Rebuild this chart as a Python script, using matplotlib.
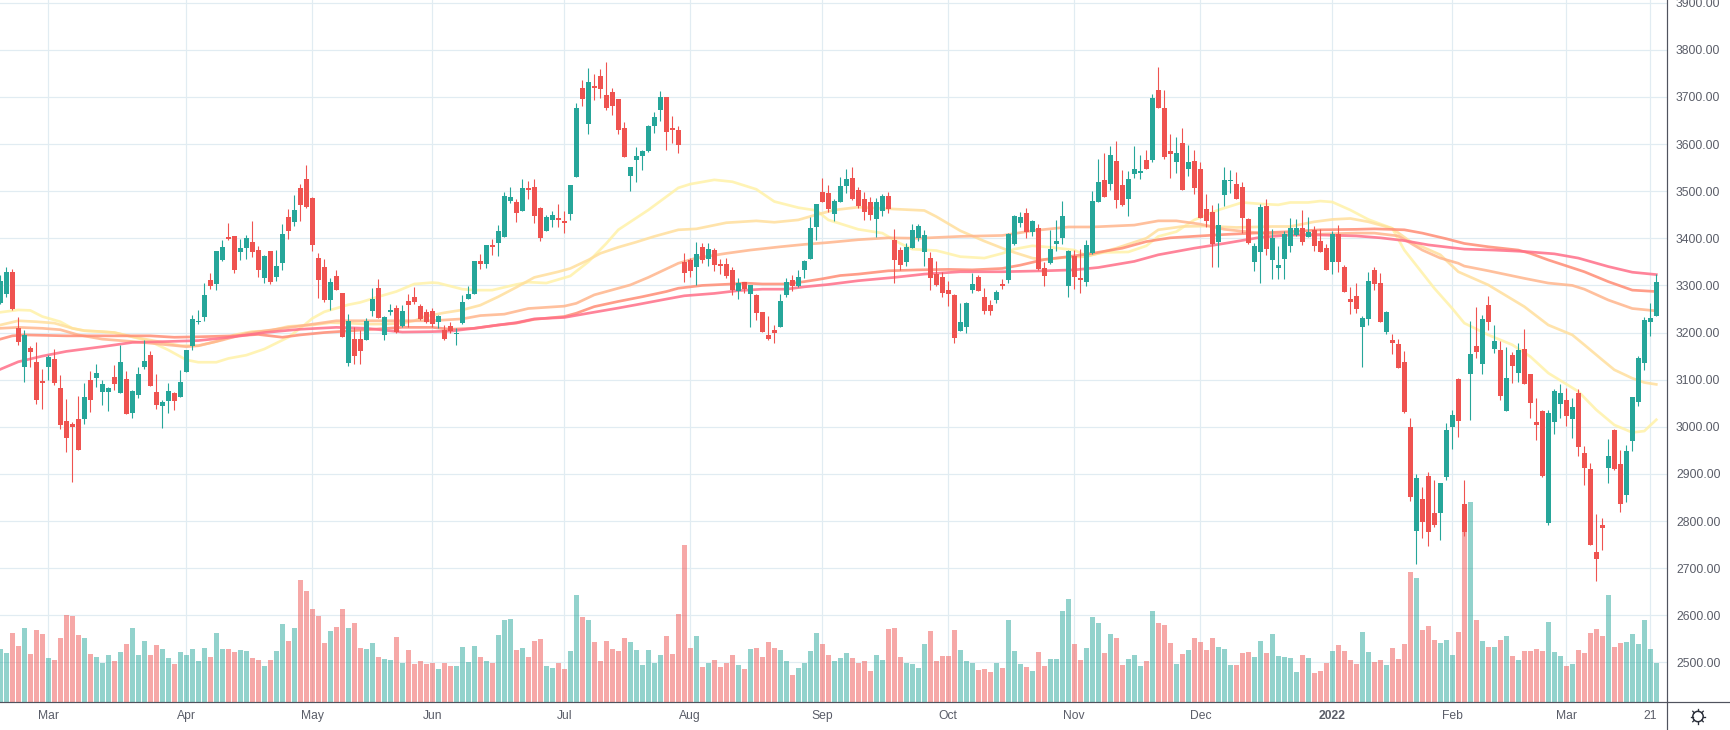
import matplotlib
matplotlib.use("Agg")
import numpy as np
import matplotlib.pyplot as plt
from matplotlib.patches import Circle

plt.rcParams['font.family'] = ['Liberation Sans', 'DejaVu Sans']

open_ = [3263,3282,3329,3210,3127,3167,3138,3097,3127,3144,
 3082,3012,3006,3017,3017,3100,3104,3074,3074,3106,
 3072,3102,3029,3068,3127,3152,3074,3044,3055,3072,
 3063,3116,3172,3222,3233,3312,3303,3354,3403,3405,
 3371,3379,3392,3375,3316,3373,3318,3348,3445,3435,
 3507,3526,3486,3358,3339,3269,3320,3284,3135,3186,
 3186,3184,3246,3295,3195,3244,3252,3214,3267,3275,
 3256,3244,3246,3223,3206,3214,3197,3220,3271,3282,
 3352,3346,3386,3390,3403,3479,3477,3458,3507,3509,
 3464,3416,3439,3443,3437,3452,3530,3719,3643,3723,
 3744,3704,3710,3696,3634,3532,3566,3575,3585,3638,
 3672,3700,3634,3630,3350,3354,3339,3382,3356,3375,
 3346,3346,3333,3288,3307,3282,3280,3244,3195,3206,
 3212,3280,3312,3299,3333,3356,3424,3498,3496,3452,
 3477,3511,3528,3503,3483,3477,3441,3458,3490,3397,
 3375,3350,3380,3401,3371,3358,3324,3318,3290,3280,
 3203,3212,3290,3318,3276,3259,3269,3303,3312,3388,
 3433,3454,3413,3422,3337,3348,3388,3401,3299,3363,
 3316,3307,3369,3477,3524,3515,3564,3513,3483,3537,
 3539,3566,3566,3715,3677,3585,3562,3602,3547,3564,
 3547,3462,3456,3392,3492,3522,3515,3509,3441,3350,
 3371,3469,3354,3337,3356,3384,3407,3422,3403,3418,
 3394,3379,3350,3409,3339,3271,3278,3212,3229,3333,
 3305,3201,3184,3176,3138,3000,2779,2847,2896,2817,
 2817,2894,3000,3102,2836,3112,3172,3133,3259,3165,
 3163,3034,3152,3114,3165,3112,3010,3034,2796,3010,
 3048,3057,3017,3072,2945,2911,2735,2792,2913,2993,
 2921,2855,2970,3053,3135,3222,3235]
close = [3309,3329,3250,3180,3195,3159,3057,3093,3148,3093,
 3004,2976,3000,2951,3063,3057,3114,3091,3082,3091,
 3138,3027,3076,3112,3140,3087,3046,3053,3076,3055,
 3095,3163,3229,3225,3280,3299,3373,3382,3399,3333,
 3379,3401,3371,3333,3363,3307,3341,3409,3416,3460,
 3471,3466,3386,3312,3269,3307,3290,3191,3225,3150,
 3161,3225,3271,3231,3233,3248,3201,3246,3259,3265,
 3229,3222,3218,3235,3186,3203,3199,3265,3282,3352,
 3346,3386,3382,3416,3490,3488,3454,3507,3503,3447,
 3401,3445,3450,3439,3433,3513,3677,3696,3732,3719,
 3717,3677,3681,3630,3573,3551,3575,3585,3638,3657,
 3700,3626,3630,3598,3327,3331,3367,3354,3377,3343,
 3341,3320,3290,3305,3292,3301,3242,3201,3186,3199,
 3267,3307,3299,3318,3352,3422,3473,3477,3462,3479,
 3511,3526,3483,3469,3456,3450,3477,3490,3462,3354,
 3343,3382,3418,3426,3407,3316,3301,3284,3282,3189,
 3223,3263,3303,3288,3246,3246,3286,3299,3409,3447,
 3445,3413,3437,3335,3320,3377,3394,3447,3373,3318,
 3312,3386,3479,3520,3488,3577,3481,3471,3526,3547,
 3543,3547,3698,3677,3573,3579,3581,3503,3562,3507,
 3443,3437,3388,3428,3524,3524,3483,3443,3390,3384,
 3466,3377,3401,3343,3409,3422,3422,3392,3413,3384,
 3371,3333,3409,3350,3286,3265,3250,3231,3309,3303,
 3222,3244,3178,3125,3032,2851,2892,2798,2777,2792,
 2881,2993,3025,3012,2777,3155,3159,3229,3222,3182,
 3065,3104,3129,3163,3091,3051,3004,2896,3029,3076,
 3072,3023,3042,2957,2913,2749,2720,2785,2938,2911,
 2836,2949,3063,3146,3227,3231,3307]
high = [3322,3339,3335,3233,3206,3172,3180,3123,3152,3165,
 3110,3059,3010,3065,3093,3119,3133,3100,3085,3131,
 3174,3119,3078,3127,3184,3161,3112,3057,3093,3074,
 3121,3163,3237,3248,3305,3326,3374,3397,3432,3405,
 3399,3407,3437,3384,3365,3373,3375,3430,3462,3492,
 3515,3556,3488,3369,3356,3316,3333,3284,3239,3212,
 3206,3231,3295,3314,3235,3261,3259,3259,3282,3297,
 3261,3250,3252,3237,3216,3223,3210,3280,3299,3352,
 3367,3386,3399,3428,3498,3509,3483,3526,3522,3526,
 3466,3450,3458,3473,3458,3513,3687,3736,3761,3749,
 3759,3774,3719,3696,3647,3551,3594,3587,3640,3668,
 3713,3700,3660,3638,3369,3358,3392,3390,3390,3380,
 3356,3358,3339,3316,3307,3301,3282,3244,3235,3216,
 3282,3316,3322,3333,3354,3445,3473,3528,3513,3483,
 3530,3547,3551,3509,3498,3488,3486,3494,3498,3420,
 3382,3390,3430,3430,3418,3371,3352,3329,3309,3282,
 3263,3265,3326,3322,3295,3269,3290,3314,3411,3450,
 3456,3464,3439,3430,3350,3418,3439,3479,3375,3375,
 3377,3396,3500,3568,3581,3596,3607,3545,3543,3596,
 3577,3587,3706,3764,3715,3621,3615,3634,3598,3587,
 3562,3494,3471,3475,3551,3545,3541,3520,3443,3390,
 3473,3483,3420,3384,3416,3442,3441,3460,3445,3426,
 3420,3388,3416,3428,3343,3297,3305,3235,3329,3339,
 3326,3246,3197,3186,3161,3019,2900,2872,2904,2887,
 2881,3008,3036,3104,2887,3225,3254,3237,3278,3216,
 3182,3169,3159,3178,3208,3112,3061,3036,3036,3080,
 3091,3082,3061,3080,2959,2923,2815,2807,2974,2995,
 2951,2962,3063,3150,3233,3263,3324]
low = [3261,3275,3248,3174,3095,3127,3049,3038,3100,3089,
 2995,2947,2883,2951,3006,3032,3085,3046,3034,3078,
 3072,3027,3019,3061,3123,3087,3038,2998,3029,3036,
 3063,3116,3163,3218,3225,3292,3290,3352,3397,3326,
 3354,3356,3360,3318,3305,3303,3309,3333,3399,3426,
 3437,3464,3373,3273,3265,3248,3290,3191,3129,3133,
 3133,3184,3235,3231,3184,3237,3199,3212,3212,3261,
 3227,3220,3212,3210,3184,3199,3174,3218,3271,3282,
 3335,3337,3365,3363,3403,3475,3435,3458,3483,3433,
 3394,3416,3424,3424,3411,3439,3530,3681,3621,3693,
 3698,3672,3662,3621,3573,3500,3520,3545,3583,3623,
 3649,3587,3602,3581,3307,3318,3301,3348,3341,3331,
 3324,3316,3280,3271,3284,3212,3227,3201,3184,3178,
 3212,3276,3288,3297,3316,3356,3396,3477,3456,3437,
 3477,3496,3481,3464,3439,3439,3403,3447,3454,3305,
 3333,3341,3380,3394,3341,3290,3299,3276,3256,3178,
 3203,3199,3284,3288,3239,3237,3263,3293,3305,3386,
 3424,3401,3405,3333,3299,3346,3373,3388,3276,3293,
 3284,3299,3367,3477,3488,3503,3464,3469,3447,3528,
 3526,3547,3562,3677,3568,3528,3539,3503,3532,3494,
 3443,3424,3339,3339,3469,3496,3483,3411,3388,3331,
 3305,3365,3314,3314,3314,3371,3405,3386,3403,3373,
 3371,3333,3324,3329,3286,3239,3242,3127,3216,3290,
 3222,3197,3155,3125,3029,2843,2709,2764,2747,2788,
 2760,2887,2953,2978,2768,3015,3146,3112,3205,3157,
 3057,3034,3093,3095,3091,3019,2972,2894,2792,2985,
 3019,3002,2976,2938,2877,2749,2673,2739,2881,2908,
 2819,2841,2949,3044,3121,3193,3235]
volume = [160,148,208,169,223,145,217,205,133,127,
 193,262,259,202,193,145,136,118,142,124,
 151,175,223,142,184,142,172,160,133,115,
 151,142,160,124,163,136,208,160,160,151,
 157,154,133,127,109,127,154,235,184,223,
 367,334,280,259,178,214,226,280,223,238,
 163,160,178,136,130,127,196,118,157,115,
 124,115,118,100,118,109,109,166,121,169,
 136,124,118,202,247,250,157,163,136,184,
 190,109,103,118,100,154,322,256,247,181,
 124,184,160,154,193,181,157,112,157,118,
 142,199,145,265,472,163,199,106,118,127,
 106,118,142,112,100,160,163,136,181,163,
 157,124,82,103,118,154,208,175,142,124,
 133,148,133,118,124,94,142,127,220,223,
 136,118,115,103,175,214,124,139,139,217,
 157,124,118,97,100,91,118,103,247,154,
 115,106,94,151,109,130,130,274,310,175,
 127,163,256,238,148,205,193,112,130,142,
 109,124,274,238,232,178,115,145,157,193,
 181,157,193,166,160,112,112,148,151,136,
 184,148,205,139,136,133,91,142,133,88,
 94,118,154,172,154,127,115,211,151,121,
 127,112,163,130,175,391,373,217,229,187,
 178,187,142,211,576,600,247,184,166,166,
 187,199,139,127,154,154,160,154,241,151,
 139,109,115,157,148,208,220,199,322,166,
 178,181,205,175,247,160,118]

ma1_k = [0,3,5,7,10,12,14,19,22,25,28,31,33,36,38,41,44,48,50,52,54,58,60,63,66,69,72,73,77,79,82,86,88,91,95,98,101,103,108,113,115,119,122,126,129,133,136,138,143,147,150,152,156,160,164,167,169,172,175,179,181,184,188,191,193,196,199,203,207,210,213,215,218,220,222,225,228,232,234,239,242,244,248,252,255,258,263,266,269,272,274,276]
ma1 = [3243,3248,3247,3234,3223,3209,3204,3200,3191,3181,3163,3142,3137,3137,3145,3152,3165,3190,3209,3230,3244,3259,3264,3276,3287,3303,3306,3305,3292,3290,3290,3302,3307,3305,3320,3350,3389,3418,3460,3507,3515,3524,3520,3504,3478,3465,3459,3439,3419,3411,3389,3377,3374,3361,3358,3368,3377,3384,3381,3375,3363,3370,3371,3384,3404,3414,3439,3460,3476,3473,3471,3476,3476,3479,3477,3460,3440,3421,3375,3294,3251,3220,3195,3174,3149,3114,3075,3036,3004,2988,2991,3015]
ma2_k = [0,3,6,9,12,14,17,19,22,25,28,30,33,36,39,42,45,48,52,55,58,61,64,67,69,71,72,74,77,80,83,86,89,93,95,98,100,103,106,109,113,116,121,126,129,133,136,139,143,149,154,156,160,164,168,172,174,178,181,186,191,193,197,201,206,212,215,219,222,225,228,232,235,240,243,248,254,258,262,264,267,269,272,274,276]
ma2 = [3216,3225,3223,3220,3209,3204,3202,3200,3191,3184,3177,3172,3172,3181,3195,3202,3204,3213,3216,3221,3220,3218,3218,3220,3225,3235,3237,3242,3248,3258,3276,3296,3317,3329,3336,3354,3368,3381,3392,3404,3418,3420,3433,3437,3434,3439,3450,3460,3466,3462,3459,3446,3416,3394,3374,3358,3355,3360,3361,3379,3400,3418,3425,3426,3423,3425,3425,3435,3440,3442,3435,3421,3393,3365,3329,3301,3255,3216,3195,3174,3142,3121,3103,3094,3090]
ma3_k = [0,3,7,10,13,17,22,27,31,33,37,41,46,50,56,61,67,72,77,80,84,88,94,96,99,105,108,113,116,121,125,130,134,138,143,148,153,160,167,172,178,182,189,193,196,200,204,210,215,226,229,233,237,240,243,244,248,254,258,262,264,268,272,276]
ma3 = [3209,3211,3209,3206,3195,3186,3181,3175,3170,3172,3184,3198,3207,3214,3225,3225,3225,3225,3229,3236,3239,3251,3256,3262,3280,3301,3317,3347,3358,3368,3375,3382,3387,3391,3397,3401,3400,3404,3406,3416,3424,3424,3428,3437,3437,3430,3419,3411,3407,3411,3411,3405,3375,3358,3347,3341,3331,3315,3305,3300,3292,3269,3251,3246]
ma4_k = [0,2,4,11,17,25,29,33,39,43,47,50,54,61,67,72,75,79,83,86,89,94,96,99,103,107,111,113,117,122,124,127,131,134,137,140,143,148,153,158,162,167,170,174,178,182,187,191,195,200,204,209,215,220,226,229,234,237,241,244,248,253,255,258,264,268,272,276]
ma4 = [3186,3193,3195,3193,3193,3193,3190,3191,3193,3196,3190,3195,3200,3206,3211,3211,3207,3209,3216,3220,3228,3234,3241,3255,3266,3276,3287,3294,3300,3303,3305,3303,3303,3308,3314,3321,3324,3331,3333,3334,3333,3336,3343,3355,3361,3368,3379,3393,3401,3405,3408,3411,3414,3418,3419,3420,3418,3411,3399,3389,3382,3375,3368,3354,3329,3308,3290,3287]
ma5_k = [0,3,7,11,17,22,28,33,39,44,50,56,61,67,72,75,79,83,86,89,94,98,103,106,111,114,119,123,127,131,134,138,143,149,154,160,167,174,179,183,189,193,199,204,210,215,220,226,230,234,238,244,249,254,259,263,268,272,276]
ma5 = [3122,3138,3150,3160,3170,3179,3181,3183,3191,3200,3207,3211,3209,3201,3202,3203,3209,3216,3221,3229,3232,3241,3252,3259,3271,3278,3283,3289,3292,3292,3297,3302,3310,3317,3324,3329,3329,3331,3333,3338,3351,3365,3379,3389,3402,3407,3407,3405,3401,3395,3386,3377,3375,3372,3367,3358,3340,3328,3323]

price_ticks = [2500,2600,2700,2800,2900,3000,3100,3200,3300,3400,3500,3600,3700,3800,3900]
date_ticks = [8,31,52,72,94,115,137,158,179,200,222,242,261,275]
date_labels = ['Mar','Apr','May','Jun','Jul','Aug','Sep','Oct','Nov','Dec','2022','Feb','Mar','21']

UP, DOWN = '#26a69a', '#ef5350'
GRID, AXIS, TEXT = '#e1ecf2', '#50535e', '#5a5d68'
PX = 72 / 100  # one pixel in points

W, H = 1730, 730
X_AX, Y_AX = 1667, 702
fig = plt.figure(figsize=(W / 100, H / 100), dpi=100, facecolor='white')
ax = fig.add_axes([0, (H - Y_AX) / H, X_AX / W, Y_AX / H])

# hidden scale for the volume pane; the volume bars sit over the grid, under the candles
vax = ax.twinx()
vax.set_ylim(0, Y_AX * 3)
vax.axis('off')
vax.set_zorder(0)
ax.set_zorder(1)

ax.set_xlim(-0.05, (X_AX - 0.3) / 6)
ax.set_ylim(2416.1, 3905.6)
ax.autoscale(False)
ax.set_facecolor('white')
for s in ax.spines.values():
    s.set_visible(False)
for name in ('right', 'bottom'):
    ax.spines[name].set_visible(True)
    ax.spines[name].set_color(AXIS)
    ax.spines[name].set_linewidth(PX * 1.2)
    ax.spines[name].set_zorder(10)

ax.yaxis.tick_right()
ax.set_yticks(price_ticks)
ax.set_yticklabels([f'{p:.2f}' for p in price_ticks])
ax.set_xticks(date_ticks)
ax.set_xticklabels(date_labels)
ax.tick_params(axis='both', length=0, labelsize=8.7, labelcolor=TEXT)
ax.tick_params(axis='y', pad=6.5)
ax.tick_params(axis='x', pad=5.5)
for t in ax.get_xticklabels():
    if t.get_text() == '2022':
        t.set_fontweight('bold')
ax.grid(True, color=GRID, linewidth=PX * 1.2)
ax.set_axisbelow(True)

k = np.arange(len(close))
o, c, h, l = map(np.array, (open_, close, high, low))
up = c >= o
colors = np.where(up, UP, DOWN)

ax.bar(k, volume, width=5.2 / 6, color=colors, alpha=0.5, linewidth=0, zorder=2,
       transform=vax.transData)

ma_style = [(ma1_k, ma1, '#fff2a8'), (ma2_k, ma2, '#ffdf9c'), (ma3_k, ma3, '#ffb58c'),
            (ma4_k, ma4, '#ff8c74'), (ma5_k, ma5, '#ff6f88')]
for mk, mv, col in ma_style:
    ax.plot(mk, mv, color=col, lw=PX * 2.7, alpha=0.85, solid_joinstyle='round', zorder=3)

ax.vlines(k, l, h, colors=colors, linewidth=PX * 1.1, zorder=4)
ax.bar(k, np.maximum(np.abs(c - o), 1.5), bottom=np.minimum(o, c), width=5.3 / 6,
       color=colors, linewidth=0, zorder=5)

# vertical axis continues into the date strip; settings button
ov = fig.add_axes([0, 0, 1, 1], facecolor='none')
ov.set_xlim(0, W)
ov.set_ylim(H, 0)
ov.axis('off')
ov.plot([X_AX - 0.5, X_AX - 0.5], [Y_AX, H], color=AXIS, lw=PX * 1.2)
ov.plot([X_AX, W], [Y_AX + 0.3, Y_AX + 0.3], color=AXIS, lw=PX * 1.2)
gx, gy = 1698, 716.5
ov.add_patch(Circle((gx, gy), 5.2, fill=False, ec='#2a2e39', lw=PX * 1.5))
for a in np.deg2rad(np.arange(0, 360, 45)):
    ov.plot([gx + 5.2 * np.cos(a), gx + 7.4 * np.cos(a)], [gy + 5.2 * np.sin(a), gy + 7.4 * np.sin(a)],
            color='#2a2e39', lw=PX * 1.3)

fig.savefig('out.png', dpi=100, facecolor='white')
